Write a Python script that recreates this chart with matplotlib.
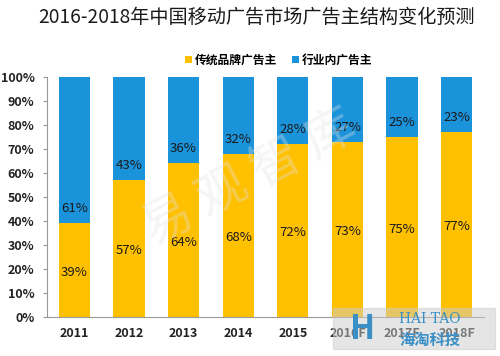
import matplotlib
matplotlib.use('Agg')
import matplotlib.pyplot as plt
from matplotlib.patches import Rectangle
import numpy as np

plt.rcParams['font.family'] = ['Noto Sans CJK SC', 'DejaVu Sans']

years = ['2011', '2012', '2013', '2014', '2015', '2016F', '2017F', '2018F']
traditional = [39, 57, 64, 68, 72, 73, 75, 77]
industry = [61, 43, 36, 32, 28, 27, 25, 23]

yellow = '#FFC000'
blue = '#1A93DB'

fig = plt.figure(figsize=(5, 3.56), dpi=100)
ax = fig.add_axes([0.094, 0.11, 0.874, 0.674])

x = np.arange(len(years))
w = 0.57
ax.bar(x, traditional, w, color=yellow, label='传统品牌广告主', zorder=2)
ax.bar(x, industry, w, bottom=traditional, color=blue, label='行业内广告主', zorder=2)

# 数据标签：黄色居中，蓝色贴近底部
for i in range(len(years)):
    ax.text(x[i], traditional[i] / 2 - 1, f'{traditional[i]}%', ha='center', va='center',
            fontsize=9.5, color='#1a1a1a', zorder=3)
    ax.text(x[i], traditional[i] + 6, f'{industry[i]}%', ha='center', va='center',
            fontsize=9.5, color='#1a1a1a', zorder=3)

ax.set_xlim(-0.5, 7.5)
ax.set_ylim(0, 100)
ax.set_yticks(range(0, 101, 10))
ax.set_yticklabels([f'{v}%' for v in range(0, 101, 10)], fontsize=9, fontweight='bold', color='#222222')
ax.set_xticks(x)
ax.set_xticklabels(years, fontsize=9, fontweight='bold', color='#222222')
ax.tick_params(axis='y', length=3, color='#999999', pad=6)
ax.tick_params(axis='x', length=0, pad=7)
for s in ['top', 'right']:
    ax.spines[s].set_visible(False)
ax.spines['left'].set_color('#999999')
ax.spines['bottom'].set_color('#999999')

fig.text(0.512, 0.952, '2016-2018年中国移动广告市场广告主结构变化预测', ha='center', va='center',
         fontsize=13.8, color='#1a1a1a')

ax.legend(loc='center', bbox_to_anchor=(0.53, 1.07), ncol=2, frameon=False,
          handlelength=0.6, handleheight=0.6, handletextpad=0.3,
          columnspacing=1.2, prop={'weight': 'bold', 'size': 8.5})

# 水印
fig.text(0.5, 0.5, '易 观 智 库', ha='center', va='center', fontsize=36, color='#e2e2e2',
         alpha=0.35, rotation=28, zorder=10)

# 右下角标志
fig.patches.append(Rectangle((0.666, 0.02), 0.324, 0.115, transform=fig.transFigure,
                             color='#cccccc', alpha=0.5, zorder=10))
fig.text(0.725, 0.075, 'H', ha='center', va='center', fontsize=24, fontweight='bold',
         color='#3a8fc6', zorder=11)
fig.text(0.86, 0.105, 'HAI TAO', ha='center', va='center', fontsize=10, family='serif',
         color='#3a8fc6', zorder=11)
fig.text(0.86, 0.045, '海淘科技', ha='center', va='center', fontsize=11, fontweight='bold',
         color='#3a8fc6', zorder=11)

fig.savefig('out.png', dpi=100)
